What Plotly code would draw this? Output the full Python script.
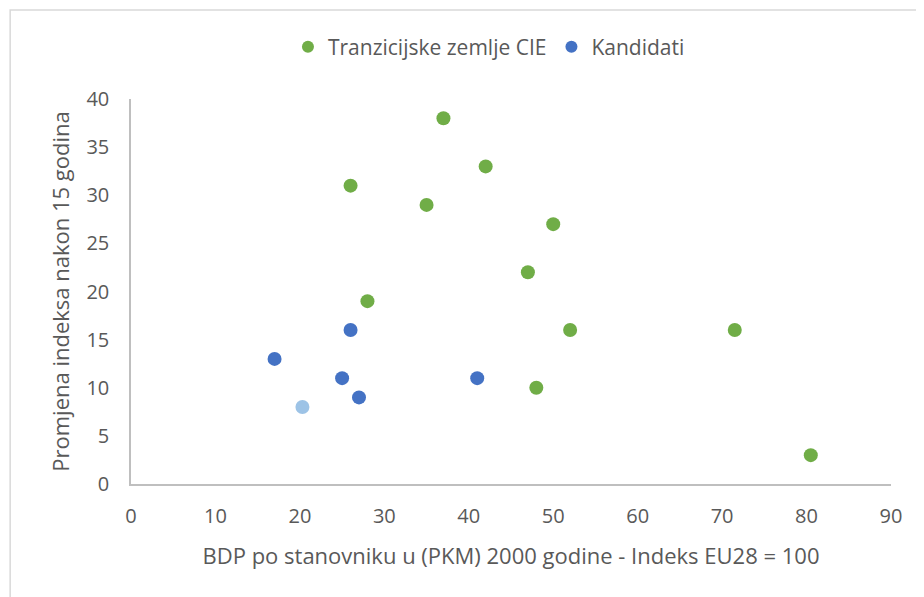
import plotly.graph_objects as go

# Data
cie_x = [37, 42, 26, 35, 50, 47, 28, 52, 71.5, 48, 80.5]
cie_y = [38, 33, 31, 29, 27, 22, 19, 16, 16, 10, 3]
kand_x = [17, 26, 25, 27, 41, 20.3]
kand_y = [13, 16, 11, 9, 11, 8]
kand_colors = ["#4472C4", "#4472C4", "#4472C4", "#4472C4", "#4472C4", "#9DC3E6"]

x_ticks = list(range(0, 91, 10))
y_ticks = list(range(0, 41, 5))

font_family = "Open Sans, sans-serif"

fig = go.Figure()
fig.add_trace(go.Scatter(
    x=cie_x, y=cie_y, mode="markers", name="Tranzicijske zemlje CIE",
    marker=dict(color="#70AD47", size=14, line=dict(width=0)),
))
fig.add_trace(go.Scatter(
    x=kand_x, y=kand_y, mode="markers", name="Kandidati",
    marker=dict(color=kand_colors, size=14, line=dict(width=0)),
))

fig.update_layout(
    width=924, height=597,
    margin=dict(l=123, r=41, t=91, b=121),
    paper_bgcolor="white", plot_bgcolor="white",
    font=dict(family=font_family, color="#595959", size=20),
    showlegend=True,
    legend=dict(orientation="h", x=0.471, xanchor="center", y=1.135, yanchor="middle",
                font=dict(family=font_family, size=21, color="#595959"),
                itemsizing="constant"),
    xaxis=dict(range=[0, 90], tickvals=x_ticks, showgrid=False, zeroline=False,
               showline=True, linecolor="#BFBFBF", linewidth=1.5, ticks="",
               tickfont=dict(size=20), ticklabelstandoff=13,
               title=dict(text="BDP po stanovniku u (PKM) 2000 godine - Indeks EU28 = 100",
                          font=dict(family=font_family, size=22, color="#595959"),
                          standoff=21)),
    yaxis=dict(range=[0, 40], tickvals=y_ticks, showgrid=False, zeroline=False,
               showline=True, linecolor="#BFBFBF", linewidth=1.5, ticks="",
               tickfont=dict(size=20), ticklabelstandoff=16,
               title=dict(text="Promjena indeksa nakon 15 godina",
                          font=dict(family=font_family, size=22, color="#595959"),
                          standoff=11)),
    shapes=[dict(type="rect", xref="paper", yref="paper",
                 x0=-0.159, x1=1.07, y0=-0.33, y1=1.231,
                 line=dict(color="#D9D9D9", width=1.5), fillcolor="rgba(0,0,0,0)", layer="below")],
)

fig.write_html("out.html")
